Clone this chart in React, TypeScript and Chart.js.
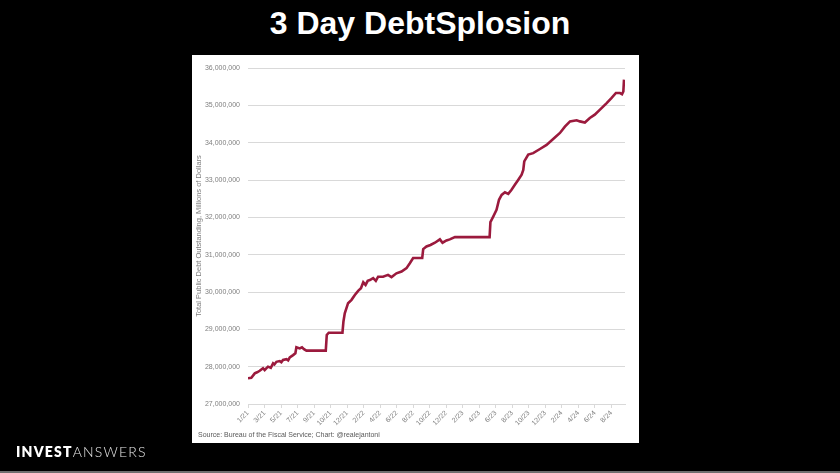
import { useEffect, useRef } from "react";
import { Chart, registerables } from "chart.js";

Chart.register(...registerables);

// x-axis tick labels (every tick = one label step on the date axis)
const tickLabels = [
  "1/21", "3/21", "5/21", "7/21", "9/21", "10/21", "12/21",
  "2/22", "4/22", "6/22", "8/22", "10/22", "12/22",
  "2/23", "4/23", "6/23", "8/23", "10/23", "12/23",
  "2/24", "4/24", "6/24", "8/24",
];

// position along the date axis, in tick-label steps
const periods = [
  0.0, 0.2, 0.41, 0.55, 0.71, 0.91, 1.01, 1.21, 1.38, 1.52, 1.6, 1.72, 1.92, 2.02,
  2.12, 2.33, 2.43, 2.53, 2.73, 2.87, 2.93, 3.13, 3.27, 3.39, 3.54, 4.71, 4.77, 4.89,
  5.72, 5.78, 5.86, 6.06, 6.27, 6.47, 6.67, 6.84, 6.98, 7.12, 7.25, 7.38, 7.58, 7.74,
  7.88, 8.18, 8.48, 8.69, 8.99, 9.3, 9.6, 9.8, 10.0, 10.55, 10.61, 10.81, 11.05, 11.32,
  11.62, 11.78, 12.02, 12.22, 12.53, 14.63, 14.68, 14.85, 15.05, 15.2, 15.36, 15.56,
  15.76, 15.96, 16.16, 16.36, 16.57, 16.67, 16.73, 16.97, 17.27, 17.68, 18.08, 18.48,
  18.89, 19.19, 19.5, 19.9, 20.1, 20.4, 20.7, 21.0, 21.3, 21.72, 22.02, 22.28, 22.53,
  22.65, 22.73, 22.77,
];

// Total public debt outstanding, millions of dollars
const debt = [
  27690000, 27700000, 27820000, 27850000, 27890000, 27960000, 27910000, 28000000,
  27970000, 28090000, 28060000, 28130000, 28150000, 28120000, 28180000, 28200000,
  28170000, 28250000, 28310000, 28360000, 28520000, 28490000, 28520000, 28470000,
  28430000, 28430000, 28850000, 28910000, 28910000, 29210000, 29430000, 29700000,
  29790000, 29920000, 30030000, 30100000, 30260000, 30190000, 30300000, 30320000,
  30370000, 30300000, 30410000, 30410000, 30460000, 30400000, 30500000, 30550000,
  30640000, 30770000, 30910000, 30910000, 31150000, 31220000, 31260000, 31320000,
  31410000, 31320000, 31380000, 31410000, 31470000, 31470000, 31870000, 32020000,
  32200000, 32470000, 32600000, 32670000, 32630000, 32740000, 32870000, 33000000,
  33140000, 33270000, 33500000, 33680000, 33720000, 33830000, 33940000, 34100000,
  34260000, 34430000, 34570000, 34600000, 34570000, 34540000, 34660000, 34750000,
  34880000, 35060000, 35200000, 35330000, 35330000, 35300000, 35370000, 35690000,
];

const yMin = 27000000;
const yMax = 36000000;
const yStep = 1000000;

export default function App() {
  const ref = useRef<HTMLCanvasElement>(null);

  useEffect(() => {
    const chart = new Chart(ref.current as HTMLCanvasElement, {
      type: "line",
      data: {
        datasets: [
          {
            data: periods.map((p, i) => ({ x: p, y: debt[i] })),
            borderColor: "#9b1a3d",
            borderWidth: 2.6,
            pointRadius: 0,
            tension: 0,
            fill: false,
          },
        ],
      },
      options: {
        animation: false,
        responsive: false,
        maintainAspectRatio: false,
        layout: { padding: { left: 0, top: 13, right: 14, bottom: 0 } },
        plugins: { legend: { display: false }, tooltip: { enabled: false } },
        scales: {
          x: {
            type: "linear",
            min: 0,
            max: 22.83,
            afterBuildTicks: (s: any) => {
              s.ticks = tickLabels.map((_, i) => ({ value: i }));
            },
            afterFit: (s: any) => {
              s.height = 39;
            },
            ticks: {
              autoSkip: false,
              minRotation: 45,
              maxRotation: 45,
              padding: 1,
              color: "#7f7f7f",
              font: { family: "'Liberation Sans', Arial, sans-serif", size: 7 },
              callback: (_v: any, i: number) => tickLabels[i] ?? "",
            },
            grid: { drawOnChartArea: false, tickLength: 4, color: "#d9d9d9" },
            border: { color: "#d9d9d9" },
          },
          y: {
            min: yMin,
            max: yMax,
            afterFit: (s: any) => {
              s.width = 56;
            },
            ticks: {
              stepSize: yStep,
              padding: 8,
              color: "#7f7f7f",
              font: { family: "'Liberation Sans', Arial, sans-serif", size: 7 },
              callback: (v: any) => Number(v).toLocaleString("en-US"),
            },
            grid: { color: "#d9d9d9", drawTicks: false, lineWidth: 1 },
            border: { display: false },
            title: {
              display: true,
              text: "Total Public Debt Outstanding, Millions of Dollars",
              color: "#7f7f7f",
              font: { family: "'Liberation Sans', Arial, sans-serif", size: 7.5 },
              padding: { top: 2, bottom: 0 },
            },
          },
        },
      },
    } as any);
    return () => chart.destroy();
  }, []);

  return (
    <div
      style={{
        position: "fixed",
        left: 0,
        top: 0,
        width: 840,
        height: 473,
        background: "#000",
        overflow: "hidden",
      }}
    >
      <div
        style={{
          position: "absolute",
          left: 0,
          top: 7,
          width: 840,
          textAlign: "center",
          color: "#fff",
          fontFamily: "'Liberation Sans', Arial, sans-serif",
          fontWeight: 700,
          fontSize: 32,
          lineHeight: "32px",
        }}
      >
        3 Day DebtSplosion
      </div>
      <div
        style={{
          position: "absolute",
          left: 192,
          top: 55,
          width: 447,
          height: 388,
          background: "#fff",
        }}
      >
        <canvas
          ref={ref}
          width={447}
          height={388}
          style={{ position: "absolute", left: 0, top: 0, width: 447, height: 388 }}
        />
        <div
          style={{
            position: "absolute",
            left: 6,
            top: 376,
            color: "#595959",
            fontFamily: "'Liberation Sans', Arial, sans-serif",
            fontSize: 7,
            lineHeight: "8px",
            whiteSpace: "nowrap",
          }}
        >
          Source: Bureau of the Fiscal Service; Chart: @realejantoni
        </div>
      </div>
      <div
        style={{
          position: "absolute",
          left: 16,
          top: 443,
          fontFamily: "Lato, 'Open Sans', sans-serif",
          fontSize: 14,
          lineHeight: "18px",
          color: "#fff",
          letterSpacing: 1.2,
          whiteSpace: "nowrap",
        }}
      >
        <span style={{ fontWeight: 800 }}>INVEST</span>
        <span style={{ fontWeight: 300, color: "#e6e6e6" }}>ANSWERS</span>
      </div>
      <div
        style={{
          position: "absolute",
          left: 0,
          top: 471,
          width: 840,
          height: 2,
          background: "#6e6e6e",
        }}
      />
    </div>
  );
}
